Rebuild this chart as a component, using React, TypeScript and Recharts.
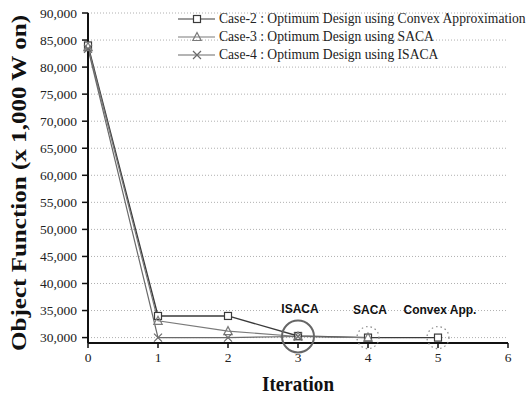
import React from 'react';
import {
    LineChart,
    Line,
    XAxis,
    YAxis,
    CartesianGrid,
    ReferenceDot,
    Legend,
} from 'recharts';

const iterations = [0, 1, 2, 3, 4, 5];
const case2 = [84000, 34000, 34000, 30300, 30000, 30000];
const case3 = [83700, 33100, 31200, 30200, 30000];
const case4 = [83400, 30000, 30000, 30200];

const xTicks = [0, 1, 2, 3, 4, 5, 6];
const yTicks = [30000, 35000, 40000, 45000, 50000, 55000, 60000, 65000, 70000, 75000, 80000, 85000, 90000];
const yMinorTicks = [32500, 37500, 42500, 47500, 52500, 57500, 62500, 67500, 72500, 77500, 82500, 87500];

const seriesNames = [
    'Case-2 : Optimum Design using Convex Approximation',
    'Case-3 : Optimum Design using SACA',
    'Case-4 : Optimum Design using ISACA',
];

// annotations: [iteration, value, label]
const annotations: [number, number, string][] = [
    [3, 30200, 'ISACA'],
    [4, 30000, 'SACA'],
    [5, 30000, 'Convex App.'],
];

const data = iterations.map((it, i) => ({
    it,
    c2: case2[i],
    c3: case3[i],
    c4: case4[i],
}));

const SERIF = '"Liberation Serif", "Times New Roman", serif';
const SANS = '"Liberation Sans", Arial, sans-serif';

const COLORS = ['#3a3a3a', '#7a7a7a', '#6a6a6a'];

const Square = ({ cx, cy, stroke }: any) =>
    cx == null ? null : <rect x={cx - 3.5} y={cy - 3.5} width={7} height={7} fill="#fff" stroke={stroke} strokeWidth={1.2} />;

const Triangle = ({ cx, cy, stroke }: any) =>
    cx == null ? null : (
        <polygon points={`${cx},${cy - 4.5} ${cx - 4.2},${cy + 3.5} ${cx + 4.2},${cy + 3.5}`} fill="none" stroke={stroke} strokeWidth={1.2} />
    );

const Cross = ({ cx, cy, stroke }: any) =>
    cx == null ? null : (
        <path d={`M${cx - 4},${cy - 4}L${cx + 4},${cy + 4}M${cx - 4},${cy + 4}L${cx + 4},${cy - 4}`} stroke={stroke} strokeWidth={1.2} />
    );

const markers = [Square, Triangle, Cross];

const LegendContent = () => (
    <div style={{ fontFamily: SERIF, fontSize: 13.6, color: '#222', whiteSpace: 'nowrap' }}>
        {seriesNames.map((name, i) => {
            const M = markers[i];
            return (
                <div key={name} style={{ display: 'flex', alignItems: 'center', height: 18 }}>
                    <svg width={37} height={14} style={{ marginRight: 4 }}>
                        <line x1={0} y1={7} x2={37} y2={7} stroke={COLORS[i]} strokeWidth={1.2} />
                        <M cx={19} cy={7} stroke={COLORS[i]} />
                    </svg>
                    <span>{name}</span>
                </div>
            );
        })}
    </div>
);

const fmt = (v: number) => v.toLocaleString('en-US');

const XTick = ({ x, y, payload }: any) => (
    <text x={x} y={y + 12} textAnchor="middle" fill="#222" fontSize={13.5} fontFamily={SERIF}>
        {payload.value}
    </text>
);

const YTick = ({ x, y, payload }: any) => (
    <text x={x - 3} y={y + 4.5} textAnchor="end" fill="#222" fontSize={13.5} fontFamily={SERIF}>
        {fmt(payload.value)}
    </text>
);

const YLabel = () => (
    <text
        transform="translate(26, 183) rotate(-90)"
        textAnchor="middle"
        fill="#111"
        fontSize={22}
        fontWeight="bold"
        fontFamily={SERIF}
        textLength={336}
        lengthAdjust="spacingAndGlyphs"
    >
        Object Function (x 1,000 W on)
    </text>
);

const XLabel = () => (
    <text
        x={298}
        y={391}
        textAnchor="middle"
        fill="#111"
        fontSize={21}
        fontWeight="bold"
        fontFamily={SERIF}
        textLength={72}
        lengthAdjust="spacingAndGlyphs"
    >
        Iteration
    </text>
);

export default function App() {
    return (
        <div style={{ position: 'absolute', left: 0, top: 0, width: 531, height: 396, background: '#fff' }}>
            <LineChart width={531} height={396} data={data} margin={{ top: 13, right: 23, left: 0, bottom: 23 }}>
                <CartesianGrid horizontal vertical={false} stroke="#b0b0b0" strokeDasharray="1 2" />
                <XAxis
                    type="number"
                    dataKey="it"
                    domain={[0, 6]}
                    ticks={xTicks}
                    height={30}
                    axisLine={{ stroke: '#111', strokeWidth: 2 }}
                    tickLine={{ stroke: '#111', strokeWidth: 1.5 }}
                    tickSize={5}
                    tick={<XTick />}
                    label={<XLabel />}
                />
                <YAxis
                    type="number"
                    domain={[29000, 90000]}
                    ticks={yTicks}
                    width={88}
                    allowDataOverflow
                    axisLine={{ stroke: '#111', strokeWidth: 2 }}
                    tickLine={{ stroke: '#111', strokeWidth: 1.5 }}
                    tickSize={6}
                    tick={<YTick />}
                    label={<YLabel />}
                />
                <YAxis
                    yAxisId="minor"
                    type="number"
                    domain={[29000, 90000]}
                    ticks={yMinorTicks}
                    width={0}
                    axisLine={false}
                    tickLine={{ stroke: '#111', strokeWidth: 1.2 }}
                    tickSize={4}
                    tick={() => <g />}
                />
                <Legend
                    verticalAlign="middle"
                    align="center"
                    content={<LegendContent />}
                    wrapperStyle={{ top: 10, left: 178, width: 360 }}
                />
                <Line dataKey="c2" stroke={COLORS[0]} strokeWidth={1.4} dot={<Square stroke={COLORS[0]} />} isAnimationActive={false} legendType="none" />
                <Line dataKey="c3" stroke={COLORS[1]} strokeWidth={1.2} dot={<Triangle stroke={COLORS[1]} />} isAnimationActive={false} legendType="none" />
                <Line dataKey="c4" stroke={COLORS[2]} strokeWidth={1.2} dot={<Cross stroke={COLORS[2]} />} isAnimationActive={false} legendType="none" />
                {annotations.map(([x, y, text], i) => (
                    <ReferenceDot
                        key={text}
                        x={x}
                        y={y}
                        r={i === 0 ? 16 : 11}
                        fill="none"
                        stroke={i === 0 ? '#666' : '#888'}
                        strokeWidth={i === 0 ? 2 : 1.2}
                        strokeDasharray={i === 0 ? undefined : '1.5 3'}
                        ifOverflow="visible"
                        label={{ value: text, position: 'top', offset: i === 0 ? 8 : 13, fill: '#111', fontSize: 12, fontWeight: 'bold', fontFamily: SANS, dx: 2 }}
                    />
                ))}
            </LineChart>
        </div>
    );
}
